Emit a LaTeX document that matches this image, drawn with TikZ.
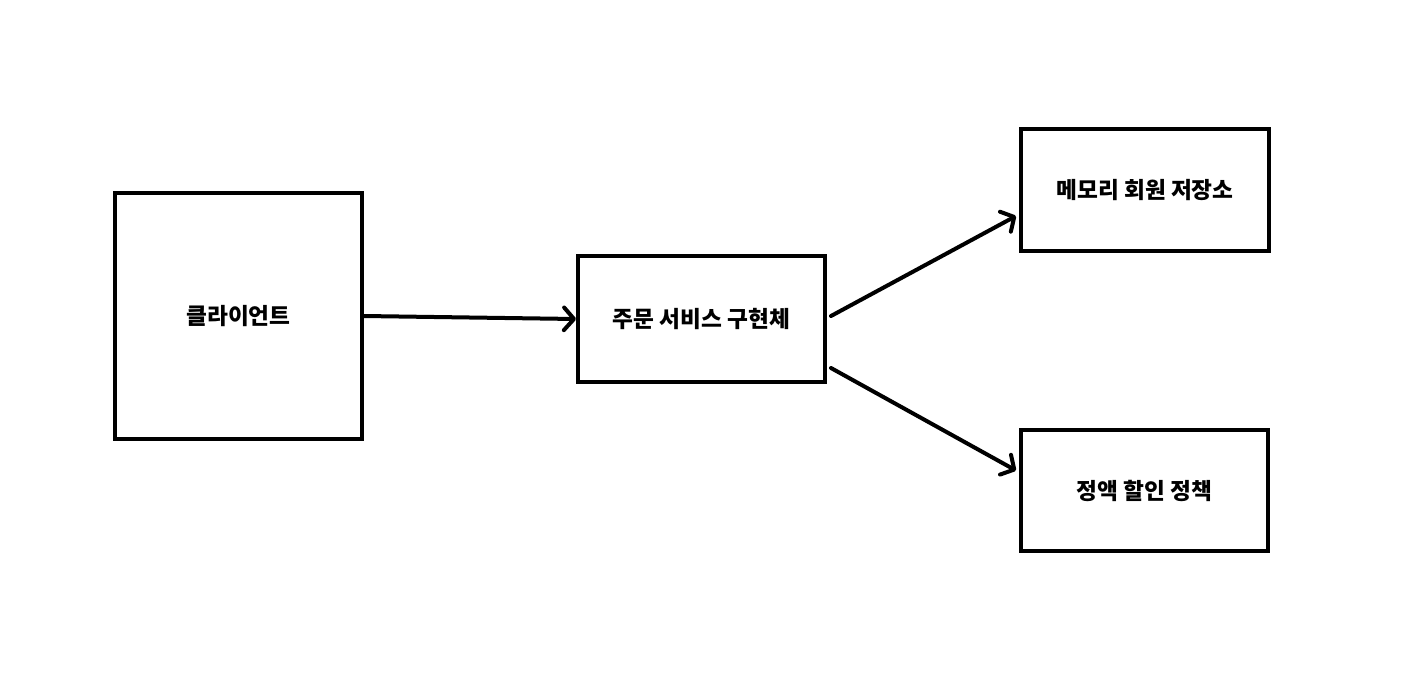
\documentclass[tikz,border=0pt]{standalone}
\usepackage{fontspec}
\setmainfont{Noto Sans CJK KR}
\usetikzlibrary{arrows.meta}
\tikzset{
  box/.style={draw=black, line width=3pt, fill=white, font=\fontsize{17pt}{20pt}\selectfont\bfseries, inner sep=0pt},
  conn/.style={line width=3pt, -{Straight Barb[length=7.5pt,width=17pt,line cap=round,line join=round]}, line cap=round}
}
\begin{document}
\begin{tikzpicture}[x=0.75pt,y=-0.75pt]
\useasboundingbox[fill=white] (0,0) rectangle (1424,672);
\node[box, minimum width=247*0.75pt, minimum height=246*0.75pt] (client) at (238.5,316) {클라이언트};
\node[box, minimum width=247*0.75pt, minimum height=126*0.75pt] (order) at (701.5,319) {주문 서비스 구현체};
\node[box, minimum width=248*0.75pt, minimum height=122*0.75pt] (memory) at (1145,190) {메모리 회원 저장소};
\node[box, minimum width=247*0.75pt, minimum height=121*0.75pt] (discount) at (1144.5,490.5) {정액 할인 정책};
\draw[conn] (client.east) -- (order.west);
\draw[conn] ([shift={(4,-3)}]order.east) -- ([shift={(-3,26)}]memory.west);
\draw[conn] ([shift={(4,49)}]order.east) -- ([shift={(-3,-20)}]discount.west);
\end{tikzpicture}
\end{document}
